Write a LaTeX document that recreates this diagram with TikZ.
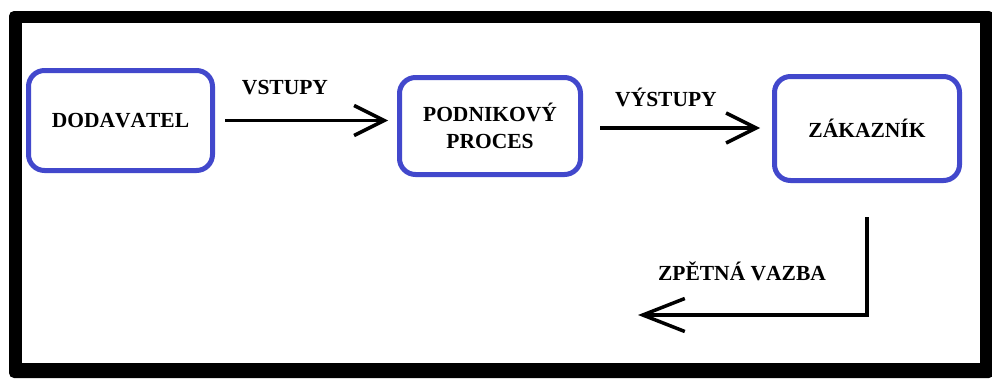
\documentclass[tikz,border=0pt]{standalone}
\usepackage{fontspec}
\setmainfont[Kerning=Off]{Liberation Serif}
\usetikzlibrary{arrows.meta}
\definecolor{boxblue}{RGB}{66,72,204}
\begin{document}
\begin{tikzpicture}[x=1pt,y=-1pt,
  procbox/.style={draw=boxblue, line width=5pt, rounded corners=16pt, fill=white,
    font=\fontsize{21.5}{27}\selectfont\bfseries, align=center, inner sep=2pt},
  lbl/.style={font=\fontsize{21.5}{27}\selectfont\bfseries, inner sep=0pt},
  arr/.style={line width=3.5pt, -{Straight Barb[length=30pt,width=30pt,line width=3.5pt]}},
  fbarr/.style={line width=3.5pt, -{Straight Barb[length=42pt,width=33pt,line width=3.5pt]}}]
\useasboundingbox (0,0) rectangle (992,380);
\fill[white] (0,0) rectangle (992,380);
% frame
\fill[black, rounded corners=5pt] (9,11) rectangle (994,378);
\fill[white] (22,23) rectangle (980,363);
% nodes
\node[procbox, minimum width=184pt, minimum height=100pt] (dod) at (120.5,120.5) {DODAVATEL};
\node[procbox, minimum width=181pt, minimum height=97pt] (pod) at (490,126) {PODNIKOVÝ\\PROCES};
\node[procbox, minimum width=185pt, minimum height=104pt] (zak) at (867,128.5) {ZÁKAZNÍK};
% labels
\node[lbl] (vst) at (285,88) {VSTUPY};
\node[lbl] (vyst) at (666,97) {VÝSTUPY};
\node[lbl] (zpv) at (742,271) {ZPĚTNÁ VAZBA};
% connectors
\draw[arr] ([xshift=10pt]dod.east) -- ([xshift=-9pt]pod.west |- dod.east);
\draw[arr] ([xshift=17pt,yshift=-2pt]pod.east) -- ([xshift=-12pt,yshift=-2pt]zak.west |- pod.east);
\coordinate (fbend) at (638,315);
\draw[fbarr] ([yshift=-34pt]zak.south) |- (fbend);
\end{tikzpicture}
\end{document}
